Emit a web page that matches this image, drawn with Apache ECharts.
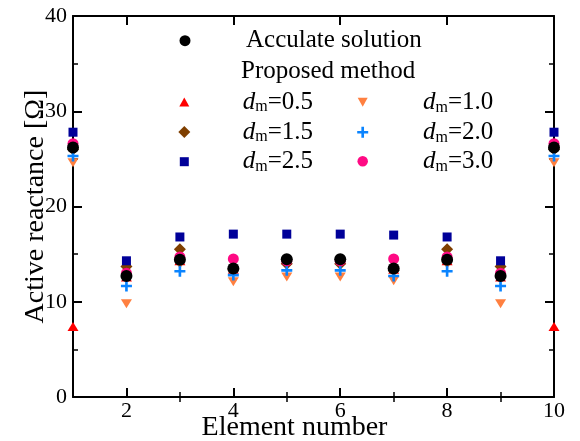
<!DOCTYPE html>
<html>
<head>
<meta charset="utf-8">
<script src="https://cdn.jsdelivr.net/npm/echarts@6/dist/echarts.min.js"></script>
<style>
html, body { margin: 0; padding: 0; background: #fff; }
#chart { width: 580px; height: 441px; }
</style>
</head>
<body>
<div id="chart"></div>
<script>
// Element indices along the array
const elements = [1, 2, 3, 4, 5, 6, 7, 8, 9, 10];

// Active reactance [Ω] per element
const accurate = [26.2, 12.7, 14.4, 13.5, 14.45, 14.45, 13.5, 14.4, 12.7, 26.2];
const dm05 = [7.4, 12.6, 14.3, 13.4, 14.4, 14.4, 13.4, 14.3, 12.6, 7.4];
const dm10 = [24.6, 9.8, 13.9, 12.1, 12.6, 12.6, 12.2, 13.9, 9.8, 24.6];
const dm15 = [26.0, 13.7, 15.5, 13.4, 14.0, 14.0, 13.3, 15.5, 13.7, 26.0];
const dm20 = [25.3, 11.65, 13.2, 12.8, 13.3, 13.3, 12.7, 13.2, 11.65, 25.3];
const dm25 = [27.8, 14.3, 16.8, 17.1, 17.1, 17.1, 17.0, 16.8, 14.3, 27.8];
const dm30 = [26.6, 13.0, 14.7, 14.5, 14.3, 14.3, 14.5, 14.7, 13.0, 26.6];

// Mesh sizes shown in the legend
const dmLabels = ['0.5', '1.0', '1.5', '2.0', '2.5', '3.0'];

// Axis ticks
const xMajorTicks = [2, 4, 6, 8, 10];
const xMinorTicks = [3, 5, 7, 9];
const yTicks = [0, 10, 20, 30, 40];

const accurateName = 'Acculate solution';
const proposedTitle = 'Proposed method';
const xTitle = 'Element number';
const yTitle = 'Active reactance [\u03A9]';

const FONT = '"Liberation Serif", "Times New Roman", serif';
const PLUS = 'path://M3.8,0H6.2V3.8H10V6.2H6.2V10H3.8V6.2H0V3.8H3.8Z';
const DOWN_TRIANGLE = 'path://M0,0H10L5,9Z';

const pairs = (ys) => elements.map((x, i) => [x, ys[i]]);

const dmSeries = [
  { values: dm05, symbol: 'triangle', size: [11, 9], color: '#ff0000' },
  { values: dm10, symbol: DOWN_TRIANGLE, size: [11, 9], color: '#ff8040' },
  { values: dm15, symbol: 'diamond', size: [12, 12], color: '#7f3f00' },
  { values: dm20, symbol: PLUS, size: [11, 11], color: '#0a84ff' },
  { values: dm25, symbol: 'rect', size: [9, 9], color: '#000099' },
  { values: dm30, symbol: 'circle', size: [11, 11], color: '#ff0a84' }
];

const series = dmSeries.map((s, i) => ({
  name: 'dm' + dmLabels[i],
  type: 'scatter',
  data: pairs(s.values),
  symbol: s.symbol,
  symbolSize: s.size,
  symbolKeepAspect: false,
  itemStyle: { color: s.color, opacity: 1 },
  clip: false,
  z: 3 + i
}));
series.push({
  name: accurateName,
  type: 'scatter',
  data: pairs(accurate),
  symbol: 'circle',
  symbolSize: 12,
  itemStyle: { color: '#000', opacity: 1 },
  clip: false,
  z: 10
});

const richText = {
  d: { fontFamily: FONT, fontSize: 25, fontStyle: 'italic', lineHeight: 26, color: '#000' },
  m: { fontFamily: FONT, fontSize: 16, lineHeight: 14, verticalAlign: 'bottom', color: '#000' },
  v: { fontFamily: FONT, fontSize: 25, lineHeight: 26, color: '#000' }
};

function legendItem(name, iconCx, cy, w, h, textX, rich) {
  const left = iconCx - w / 2;
  return {
    data: [name],
    left: left,
    top: cy - 13,
    padding: 0,
    itemWidth: w,
    itemHeight: h,
    selectedMode: false,
    itemStyle: { opacity: 1 },
    formatter: rich ? (n) => '{d|d}{m|m}{v|=' + n.slice(2) + '}' : undefined,
    textStyle: {
      fontFamily: FONT,
      fontSize: 25,
      lineHeight: 26,
      color: '#000',
      padding: [0, 0, 0, textX - (left + w + 5)],
      rich: rich ? richText : undefined
    }
  };
}

const legends = [
  legendItem(accurateName, 185, 40.7, 11, 11, 246, false),
  legendItem('dm' + dmLabels[0], 184.3, 102, 10, 9, 242.7, true),
  legendItem('dm' + dmLabels[2], 184.3, 132, 12, 12, 242.7, true),
  legendItem('dm' + dmLabels[4], 184.3, 161.7, 9, 9, 242.7, true),
  legendItem('dm' + dmLabels[1], 362.7, 102.3, 10, 9, 423, true),
  legendItem('dm' + dmLabels[3], 362.7, 132.3, 11, 11, 423, true),
  legendItem('dm' + dmLabels[5], 362.7, 161.3, 10.5, 10.5, 423, true)
];

const axisLine = { show: true, onZero: false, lineStyle: { color: '#000', width: 2 } };

function xAxisDef(position, ticks, length, width, withLabels) {
  return {
    type: 'value',
    position: position,
    min: 1,
    max: 10,
    interval: 1,
    axisLine: withLabels !== null ? axisLine : { show: false },
    axisTick: { show: true, inside: true, length: length, customValues: ticks,
                lineStyle: { color: '#000', width: width } },
    axisLabel: withLabels ? {
      show: true, customValues: xMajorTicks, margin: 3,
      fontFamily: FONT, fontSize: 22, color: '#000'
    } : { show: false },
    splitLine: { show: false }
  };
}

const xAxes = [
  Object.assign(xAxisDef('bottom', xMajorTicks, 9, 2, true), {
    name: xTitle,
    nameLocation: 'middle',
    nameGap: 17,
    nameMoveOverlap: false,
    nameTextStyle: { fontFamily: FONT, fontSize: 28, color: '#000', padding: [0, 38, 0, 0] }
  }),
  xAxisDef('bottom', xMinorTicks, 5, 1.5, null),
  xAxisDef('top', xMajorTicks, 9, 2, false),
  xAxisDef('top', xMinorTicks, 5, 1.5, null)
];

function yAxisDef(position, withLabels) {
  return {
    type: 'value',
    position: position,
    min: yTicks[0],
    max: yTicks[yTicks.length - 1],
    interval: 10,
    axisLine: axisLine,
    axisTick: { show: true, inside: true, length: 9, lineStyle: { color: '#000', width: 2 } },
    minorTick: { show: true, splitNumber: 2, length: 5, lineStyle: { color: '#000', width: 1.5 } },
    axisLabel: withLabels ? {
      show: true, margin: 6, fontFamily: FONT, fontSize: 22, color: '#000'
    } : { show: false },
    splitLine: { show: false }
  };
}

const yAxes = [
  Object.assign(yAxisDef('left', true), {
    name: yTitle,
    nameLocation: 'middle',
    nameRotate: 90,
    nameGap: 23,
    nameMoveOverlap: false,
    nameTextStyle: { fontFamily: FONT, fontSize: 28, color: '#000' }
  }),
  yAxisDef('right', false)
];

const chart = echarts.init(document.getElementById('chart'), null, { renderer: 'canvas' });
chart.setOption({
  animation: false,
  backgroundColor: '#fff',
  grid: { left: 73, right: 26, top: 16, bottom: 44, containLabel: false, outerBoundsMode: 'none' },
  xAxis: xAxes,
  yAxis: yAxes,
  legend: legends,
  graphic: [{
    type: 'text',
    left: 241,
    top: 59,
    style: { text: proposedTitle, font: '25px ' + FONT, fill: '#000' }
  }],
  series: series
});
</script>
</body>
</html>
